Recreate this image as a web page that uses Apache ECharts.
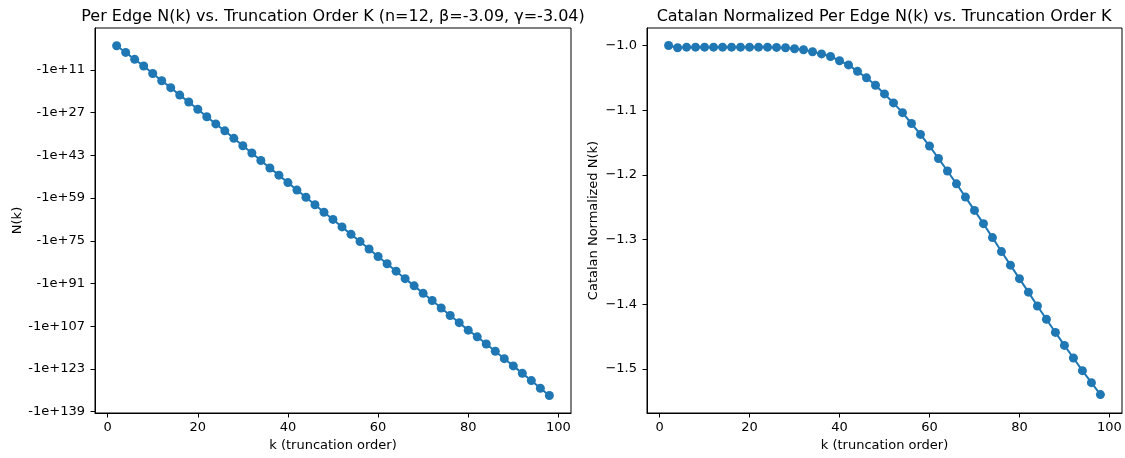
<!DOCTYPE html>
<html>
<head>
<meta charset="utf-8">
<script src="https://cdn.jsdelivr.net/npm/echarts@6/dist/echarts.min.js"></script>
<style>
  html, body { margin: 0; padding: 0; background: #fff; }
  #chart { width: 1125px; height: 458px; }
</style>
</head>
<body>
<div id="chart"></div>
<script>
// Truncation orders k = 2, 4, ..., 98
const kValues = [2,4,6,8,10,12,14,16,18,20,22,24,26,28,30,32,34,36,38,40,42,44,46,48,
  50,52,54,56,58,60,62,64,66,68,70,72,74,76,78,80,82,84,86,88,90,92,94,96,98];

// N(k) is negative; stored as log10(-N(k)) so the axis reads -1e+XX
const log10NegN = [1.9,4.4,7.0,9.5,12.3,15.0,17.6,20.4,23.0,25.7,28.5,31.2,33.8,36.6,39.4,
  42.1,44.9,47.7,50.4,53.2,56.0,58.7,61.5,64.3,67.0,69.8,72.6,75.3,78.1,80.9,83.6,86.4,
  89.2,91.9,94.7,97.4,100.2,103.0,105.7,108.5,111.0,113.7,116.4,119.2,121.9,124.7,127.4,130.3,133.0];

// Catalan-normalized per-edge N(k)
const catalanNorm = [-1.000,-1.0036,-1.0026,-1.0026,-1.0026,-1.0026,-1.0026,-1.0026,-1.0026,
  -1.0026,-1.0026,-1.0026,-1.003,-1.0036,-1.005,-1.0067,-1.0097,-1.013,-1.017,-1.0236,
  -1.030,-1.040,-1.050,-1.0615,-1.0749,-1.0888,-1.1038,-1.1206,-1.1375,-1.1554,-1.1746,
  -1.194,-1.2138,-1.2343,-1.2549,-1.2754,-1.2969,-1.3185,-1.3395,-1.3604,-1.3812,-1.4026,
  -1.4231,-1.4435,-1.4635,-1.483,-1.5026,-1.5211,-1.5395];

const xTicks = [0, 20, 40, 60, 80, 100];
const leftYTicks = [11, 27, 43, 59, 75, 91, 107, 123, 139];
const rightYTicks = [-1.0, -1.1, -1.2, -1.3, -1.4, -1.5];

const titleLeft = 'Per Edge N(k) vs. Truncation Order K (n=12, β=-3.09, γ=-3.04)';
const titleRight = 'Catalan Normalized Per Edge N(k) vs. Truncation Order K';

const FONT = 'DejaVu Sans';
const BLUE = '#1f77b4';
const tickFont = { fontFamily: FONT, fontSize: 13, color: '#000' };

function xAxisFor(gridIndex) {
  return {
    type: 'value', gridIndex: gridIndex, min: -2.8, max: 102.8,
    name: 'k (truncation order)', nameLocation: 'middle', nameGap: 25,
    nameTextStyle: { fontFamily: FONT, fontSize: 13, color: '#000' },
    axisLine: { show: true, onZero: false, lineStyle: { color: '#000', width: 1 } },
    axisTick: { show: true, inside: false, length: 4.5, customValues: xTicks, lineStyle: { color: '#000' } },
    axisLabel: Object.assign({ margin: 8, customValues: xTicks }, tickFont),
    splitLine: { show: false }
  };
}

const pairsLeft = kValues.map((k, i) => [k, log10NegN[i]]);
const pairsRight = kValues.map((k, i) => [k, catalanNorm[i]]);

const chart = echarts.init(document.getElementById('chart'), null, { renderer: 'canvas' });
chart.setOption({
  animation: false,
  backgroundColor: '#fff',
  title: [
    { text: titleLeft, left: 328, top: 4, textAlign: 'center',
      textStyle: { fontFamily: FONT, fontSize: 16, fontWeight: 'normal', color: '#000' } },
    { text: titleRight, left: 879, top: 4, textAlign: 'center',
      textStyle: { fontFamily: FONT, fontSize: 16, fontWeight: 'normal', color: '#000' } }
  ],
  grid: [
    { left: 95, right: 554, top: 28, bottom: 45, show: true, borderColor: '#000', borderWidth: 1 },
    { left: 647, right: 3, top: 28, bottom: 45, show: true, borderColor: '#000', borderWidth: 1 }
  ],
  xAxis: [xAxisFor(0), xAxisFor(1)],
  yAxis: [
    {
      type: 'value', gridIndex: 0, inverse: true, min: -4.76, max: 139.56,
      name: 'N(k)', nameLocation: 'middle', nameGap: 68,
      nameTextStyle: { fontFamily: FONT, fontSize: 13, color: '#000' },
      axisLine: { show: true, onZero: false, lineStyle: { color: '#000', width: 1 } },
      axisTick: { show: true, length: 4.5, customValues: leftYTicks, lineStyle: { color: '#000' } },
      axisLabel: Object.assign({ margin: 10, customValues: leftYTicks,
        formatter: v => '-1e+' + v }, tickFont),
      splitLine: { show: false }
    },
    {
      type: 'value', gridIndex: 1, min: -1.568, max: -0.973,
      name: 'Catalan Normalized N(k)', nameLocation: 'middle', nameGap: 47,
      nameTextStyle: { fontFamily: FONT, fontSize: 13, color: '#000' },
      axisLine: { show: true, onZero: false, lineStyle: { color: '#000', width: 1 } },
      axisTick: { show: true, length: 4.5, customValues: rightYTicks, lineStyle: { color: '#000' } },
      axisLabel: Object.assign({ margin: 10, customValues: rightYTicks,
        formatter: v => v.toFixed(1).replace('-', '\u2212') }, tickFont),
      splitLine: { show: false }
    }
  ],
  series: [
    { type: 'line', xAxisIndex: 0, yAxisIndex: 0, data: pairsLeft,
      symbol: 'circle', symbolSize: 9, showSymbol: true,
      lineStyle: { color: BLUE, width: 2 }, itemStyle: { color: BLUE } },
    { type: 'line', xAxisIndex: 1, yAxisIndex: 1, data: pairsRight,
      symbol: 'circle', symbolSize: 9, showSymbol: true,
      lineStyle: { color: BLUE, width: 2 }, itemStyle: { color: BLUE } }
  ]
});
</script>
</body>
</html>
